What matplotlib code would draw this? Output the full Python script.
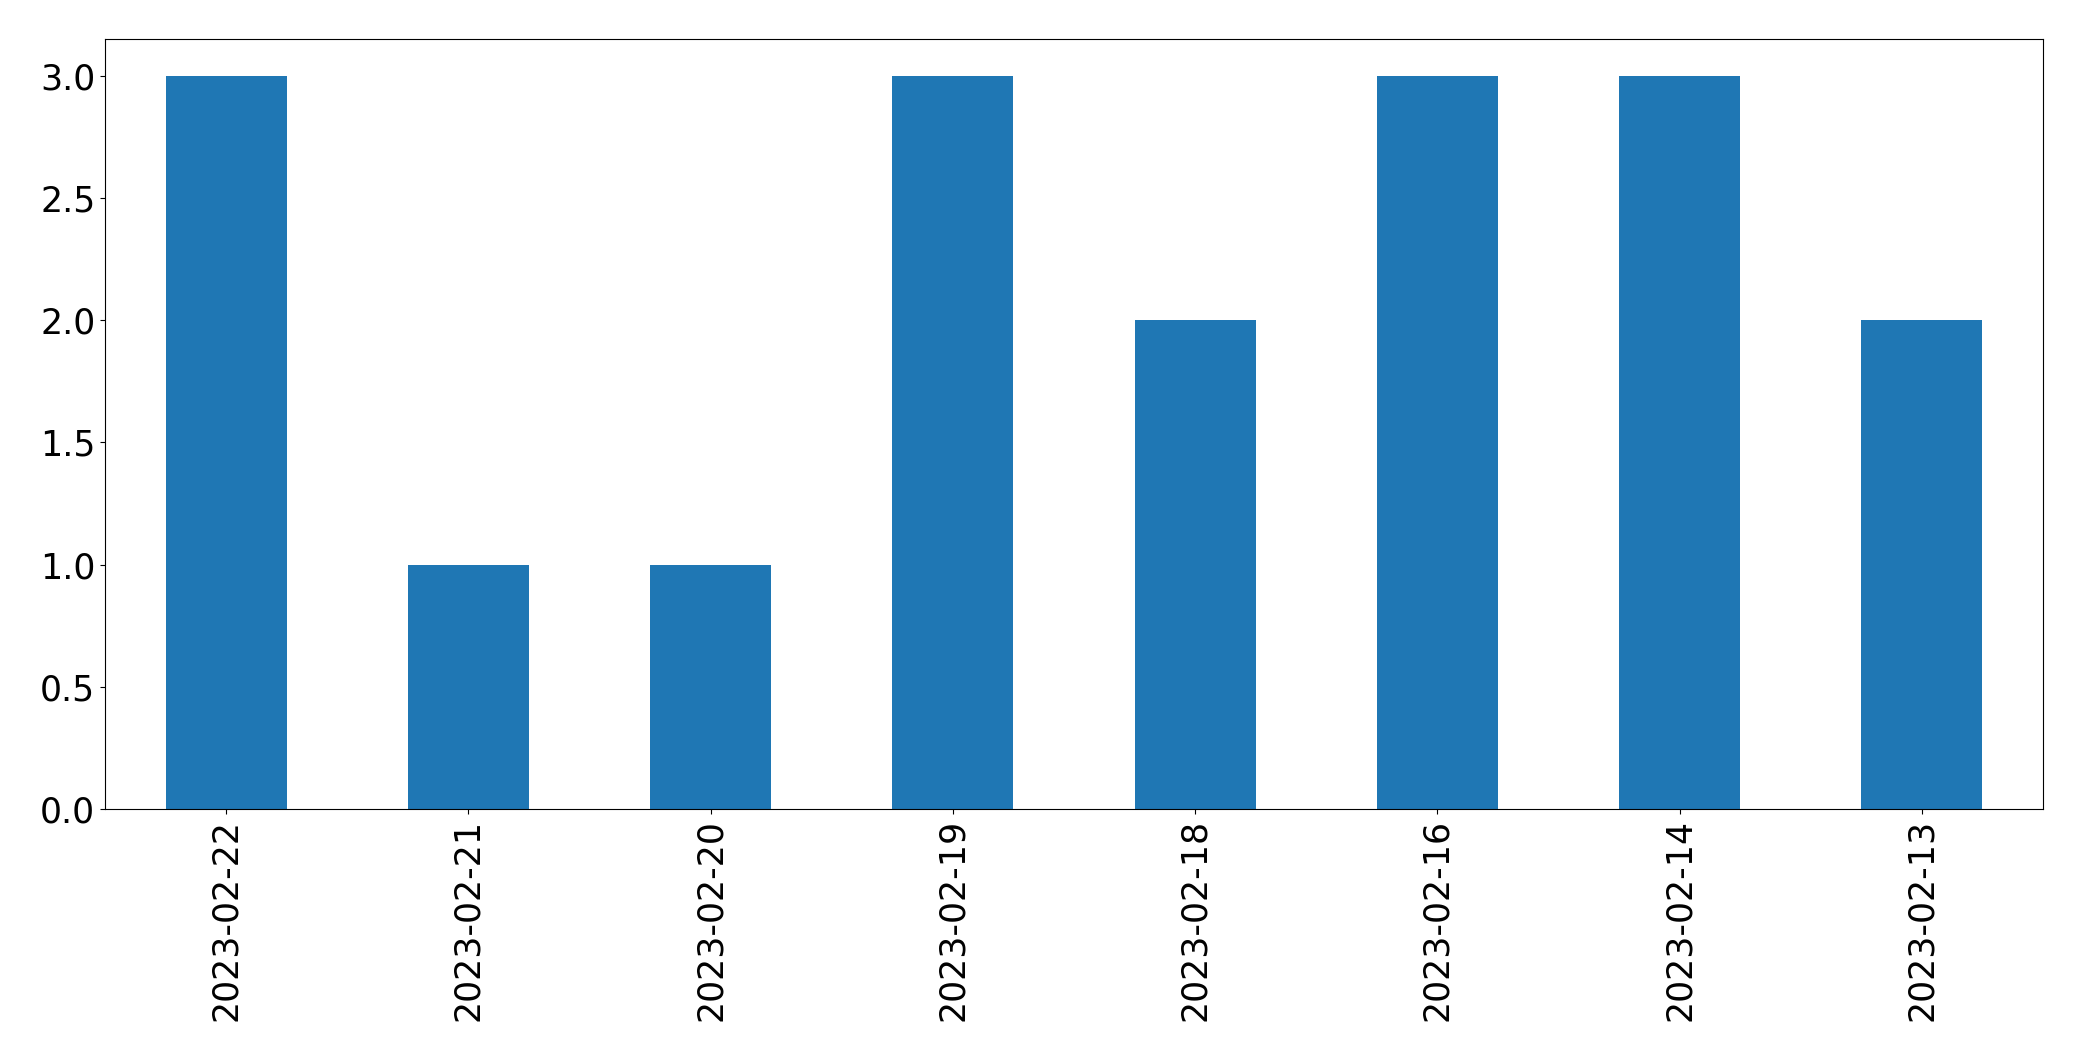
import matplotlib
matplotlib.use("Agg")
import matplotlib.pyplot as plt
import pandas as pd

dates = ["2023-02-22", "2023-02-21", "2023-02-20", "2023-02-19",
         "2023-02-18", "2023-02-16", "2023-02-14", "2023-02-13"]
counts = [3, 1, 1, 3, 2, 3, 3, 2]

s = pd.Series(counts, index=dates)

fig = plt.figure(figsize=(20.82, 10.61), dpi=100)
ax = fig.add_axes([105 / 2082, 1 - 809 / 1061, (2043 - 105) / 2082, (809 - 39) / 1061])
s.plot(kind="bar", ax=ax, color="#1f77b4", fontsize=25)

fig.savefig("out.png", dpi=100)
